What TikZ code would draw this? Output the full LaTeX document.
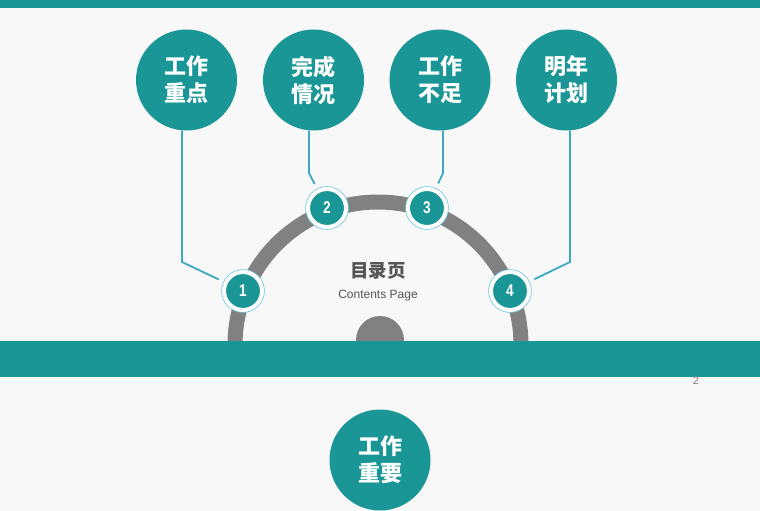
\documentclass[tikz,border=0pt]{standalone}
\usepackage{fontspec}
\newfontfamily\cjk{Noto Sans CJK SC}
\newfontfamily\numfont{Liberation Sans Bold}[FakeStretch=0.8]
\setsansfont{Liberation Sans}
\definecolor{teal1}{HTML}{1A9696}
\definecolor{linkblue}{HTML}{3AA8C1}
\definecolor{ringblue}{HTML}{6CC8DE}
\definecolor{arcgray}{HTML}{818181}
\definecolor{bggray}{HTML}{F8F8F8}
\definecolor{textgray}{HTML}{555555}
\tikzset{
    topic/.style={circle, fill=teal1, minimum size=101pt, inner sep=0pt,
        align=center, text=white, font=\cjk\bfseries\fontsize{22}{27}\selectfont},
    numdot/.style={circle, fill=teal1, minimum size=38pt, inner sep=0pt,
        preaction={draw=ringblue, line width=5.5pt}, draw=white, line width=4pt,
        text=white, font=\numfont\fontsize{17}{17}\selectfont},
    link/.style={draw=linkblue, line width=1.8pt, shorten >=6pt}
}
\begin{document}
\begin{tikzpicture}[x=1pt, y=-1pt]
            \useasboundingbox (0,0) rectangle (760,511);
            \fill[bggray] (0,0) rectangle (760,511);
            \fill[teal1] (0,0) rectangle (760,8);

            % ring and half disc
            \draw[arcgray, line width=15pt] (235,345) arc[start angle=180, end angle=360, radius=143];
            \fill[arcgray] (380,340) circle[radius=24];
            \fill[teal1] (0,341) rectangle (760,377);

            \node[topic] (t1) at (186.5,80) {工作\\重点};
            \node[topic] (t2) at (313.5,80) {完成\\情况};
            \node[topic] (t3) at (440,80) {工作\\不足};
            \node[topic] (t4) at (566.5,80) {明年\\计划};
            \node[topic] (t5) at (380,460) {工作\\重要};

            \coordinate (k1) at (182,262);
            \coordinate (k2) at (309,173);
            \coordinate (k3) at (443,173);
            \coordinate (k4) at (570,262);

            \foreach \i/\x/\y in {1/243/291, 2/327/208, 3/427/208, 4/510/291} {
                \node[numdot] (n\i) at (\x,\y) {\i};
            }

            \foreach \a/\b/\c in {t1/k1/n1, t2/k2/n2, t3/k3/n3, t4/k4/n4} {
                \draw[link] (\a.south -| \b) -- (\b) -- (\c);
            }

            \node[font=\cjk\bfseries\fontsize{18.5}{18.5}\selectfont, text=textgray]
                (title) at (378,271) {目录页};
            \node[font=\sffamily\fontsize{12}{12}\selectfont, text=textgray]
                (subtitle) at (378,296) {Contents Page};
            \node[font=\sffamily\fontsize{11}{11}\selectfont, text=gray]
                (pagenum) at (696,381) {2};
        \end{tikzpicture}
\end{document}
